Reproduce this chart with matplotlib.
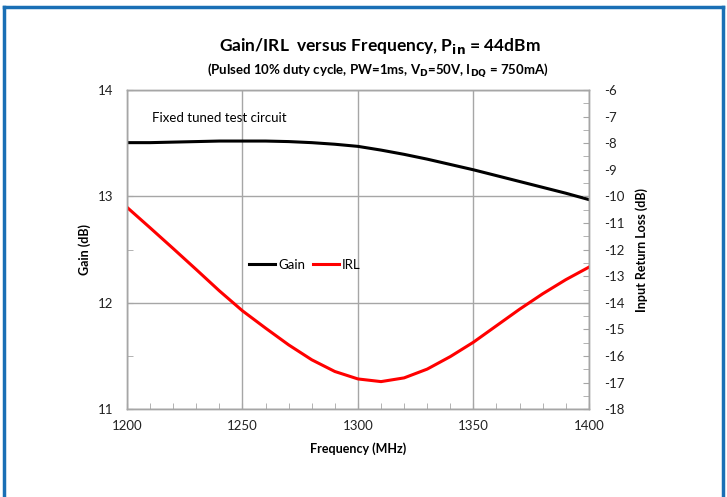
import matplotlib
matplotlib.use("Agg")
import matplotlib.pyplot as plt
from matplotlib.lines import Line2D
from matplotlib.ticker import MultipleLocator

plt.rcParams["font.family"] = ["Lato", "DejaVu Sans"]
plt.rcParams["axes.unicode_minus"] = False

# ---- data
freq = [1200, 1210, 1220, 1230, 1240, 1250, 1260, 1270, 1280, 1290, 1300,
        1310, 1320, 1330, 1340, 1350, 1360, 1370, 1380, 1390, 1400]
gain = [13.505, 13.505, 13.51, 13.515, 13.52, 13.52, 13.52, 13.515, 13.505, 13.49, 13.47,
        13.435, 13.395, 13.35, 13.30, 13.25, 13.195, 13.14, 13.085, 13.03, 12.97]
irl = [-10.41, -11.18, -11.96, -12.75, -13.55, -14.30, -14.95, -15.58, -16.14, -16.58, -16.86,
       -16.96, -16.82, -16.49, -16.02, -15.48, -14.86, -14.24, -13.66, -13.13, -12.66]

GRID = "#a6a6a6"
fig = plt.figure(figsize=(7.27, 4.97), dpi=100)
ax = fig.add_axes([0.1747, 0.1765, 0.6353, 0.6425])
ax2 = ax.twinx()

ax.plot(freq, gain, color="black", lw=2.2, label="Gain")
ax2.plot(freq, irl, color="#ff0000", lw=2.2, label="IRL")

ax.set_xlim(1200, 1400)
ax.set_ylim(11, 14)
ax2.set_ylim(-18, -6)
ax.set_xticks([1200, 1250, 1300, 1350, 1400])
ax.set_yticks([11, 12, 13, 14])
ax2.set_yticks(range(-18, -5))
ax.xaxis.set_minor_locator(MultipleLocator(10))
ax.yaxis.set_minor_locator(MultipleLocator(0.5))
ax2.yaxis.set_minor_locator(MultipleLocator(0.5))
ax.grid(True, which="major", color=GRID, lw=1)

ax.tick_params(which="both", direction="in", length=4, color=GRID, labelsize=9.5,
               labelcolor="#222222", top=False)
ax.tick_params(axis="x", pad=8)
ax.tick_params(axis="y", pad=10)
ax2.tick_params(which="both", direction="in", length=4, color=GRID, labelsize=9.5,
                labelcolor="#222222", pad=11)
for a in (ax, ax2):
    for s in a.spines.values():
        s.set_color(GRID)
        s.set_linewidth(1)

ax.set_xlabel("Frequency (MHz)", fontsize=9, fontweight="bold", labelpad=7)
ax.set_ylabel("Gain (dB)", fontsize=9, fontweight="bold", labelpad=5)
ax2.set_ylabel("Input Return Loss (dB)", fontsize=9, fontweight="bold", labelpad=8)

ax.text(1211, 13.7, "Fixed tuned test circuit", fontsize=9.5)

h1, l1 = ax.get_legend_handles_labels()
h2, l2 = ax2.get_legend_handles_labels()
ax.legend(h1 + h2, l1 + l2, loc="center", bbox_to_anchor=(0.385, 0.453), ncol=2,
          frameon=False, fontsize=9.5, handlelength=2.0, handletextpad=0.2,
          columnspacing=0.6)

fig.text(0.523, 0.897, r"Gain/IRL  versus Frequency, P$_{\mathbf{in}}$ = 44dBm",
         ha="center", fontsize=12.5, fontweight="bold")
fig.text(0.519, 0.851,
         r"(Pulsed 10% duty cycle, PW=1ms, V$_{\mathbf{D}}$=50V, I$_{\mathbf{DQ}}$ = 750mA)",
         ha="center", fontsize=9.5, fontweight="bold")

# blue frame round the chart
BLUE = "#1a6fb5"
for xs, ys in [([0.006, 0.006], [0.0, 0.986]), ([0.006, 0.994], [0.986, 0.986]),
               ([0.994, 0.994], [0.0, 0.986])]:
    fig.add_artist(Line2D(xs, ys, color=BLUE, lw=2.5, transform=fig.transFigure))

fig.savefig("out.png", dpi=100)
